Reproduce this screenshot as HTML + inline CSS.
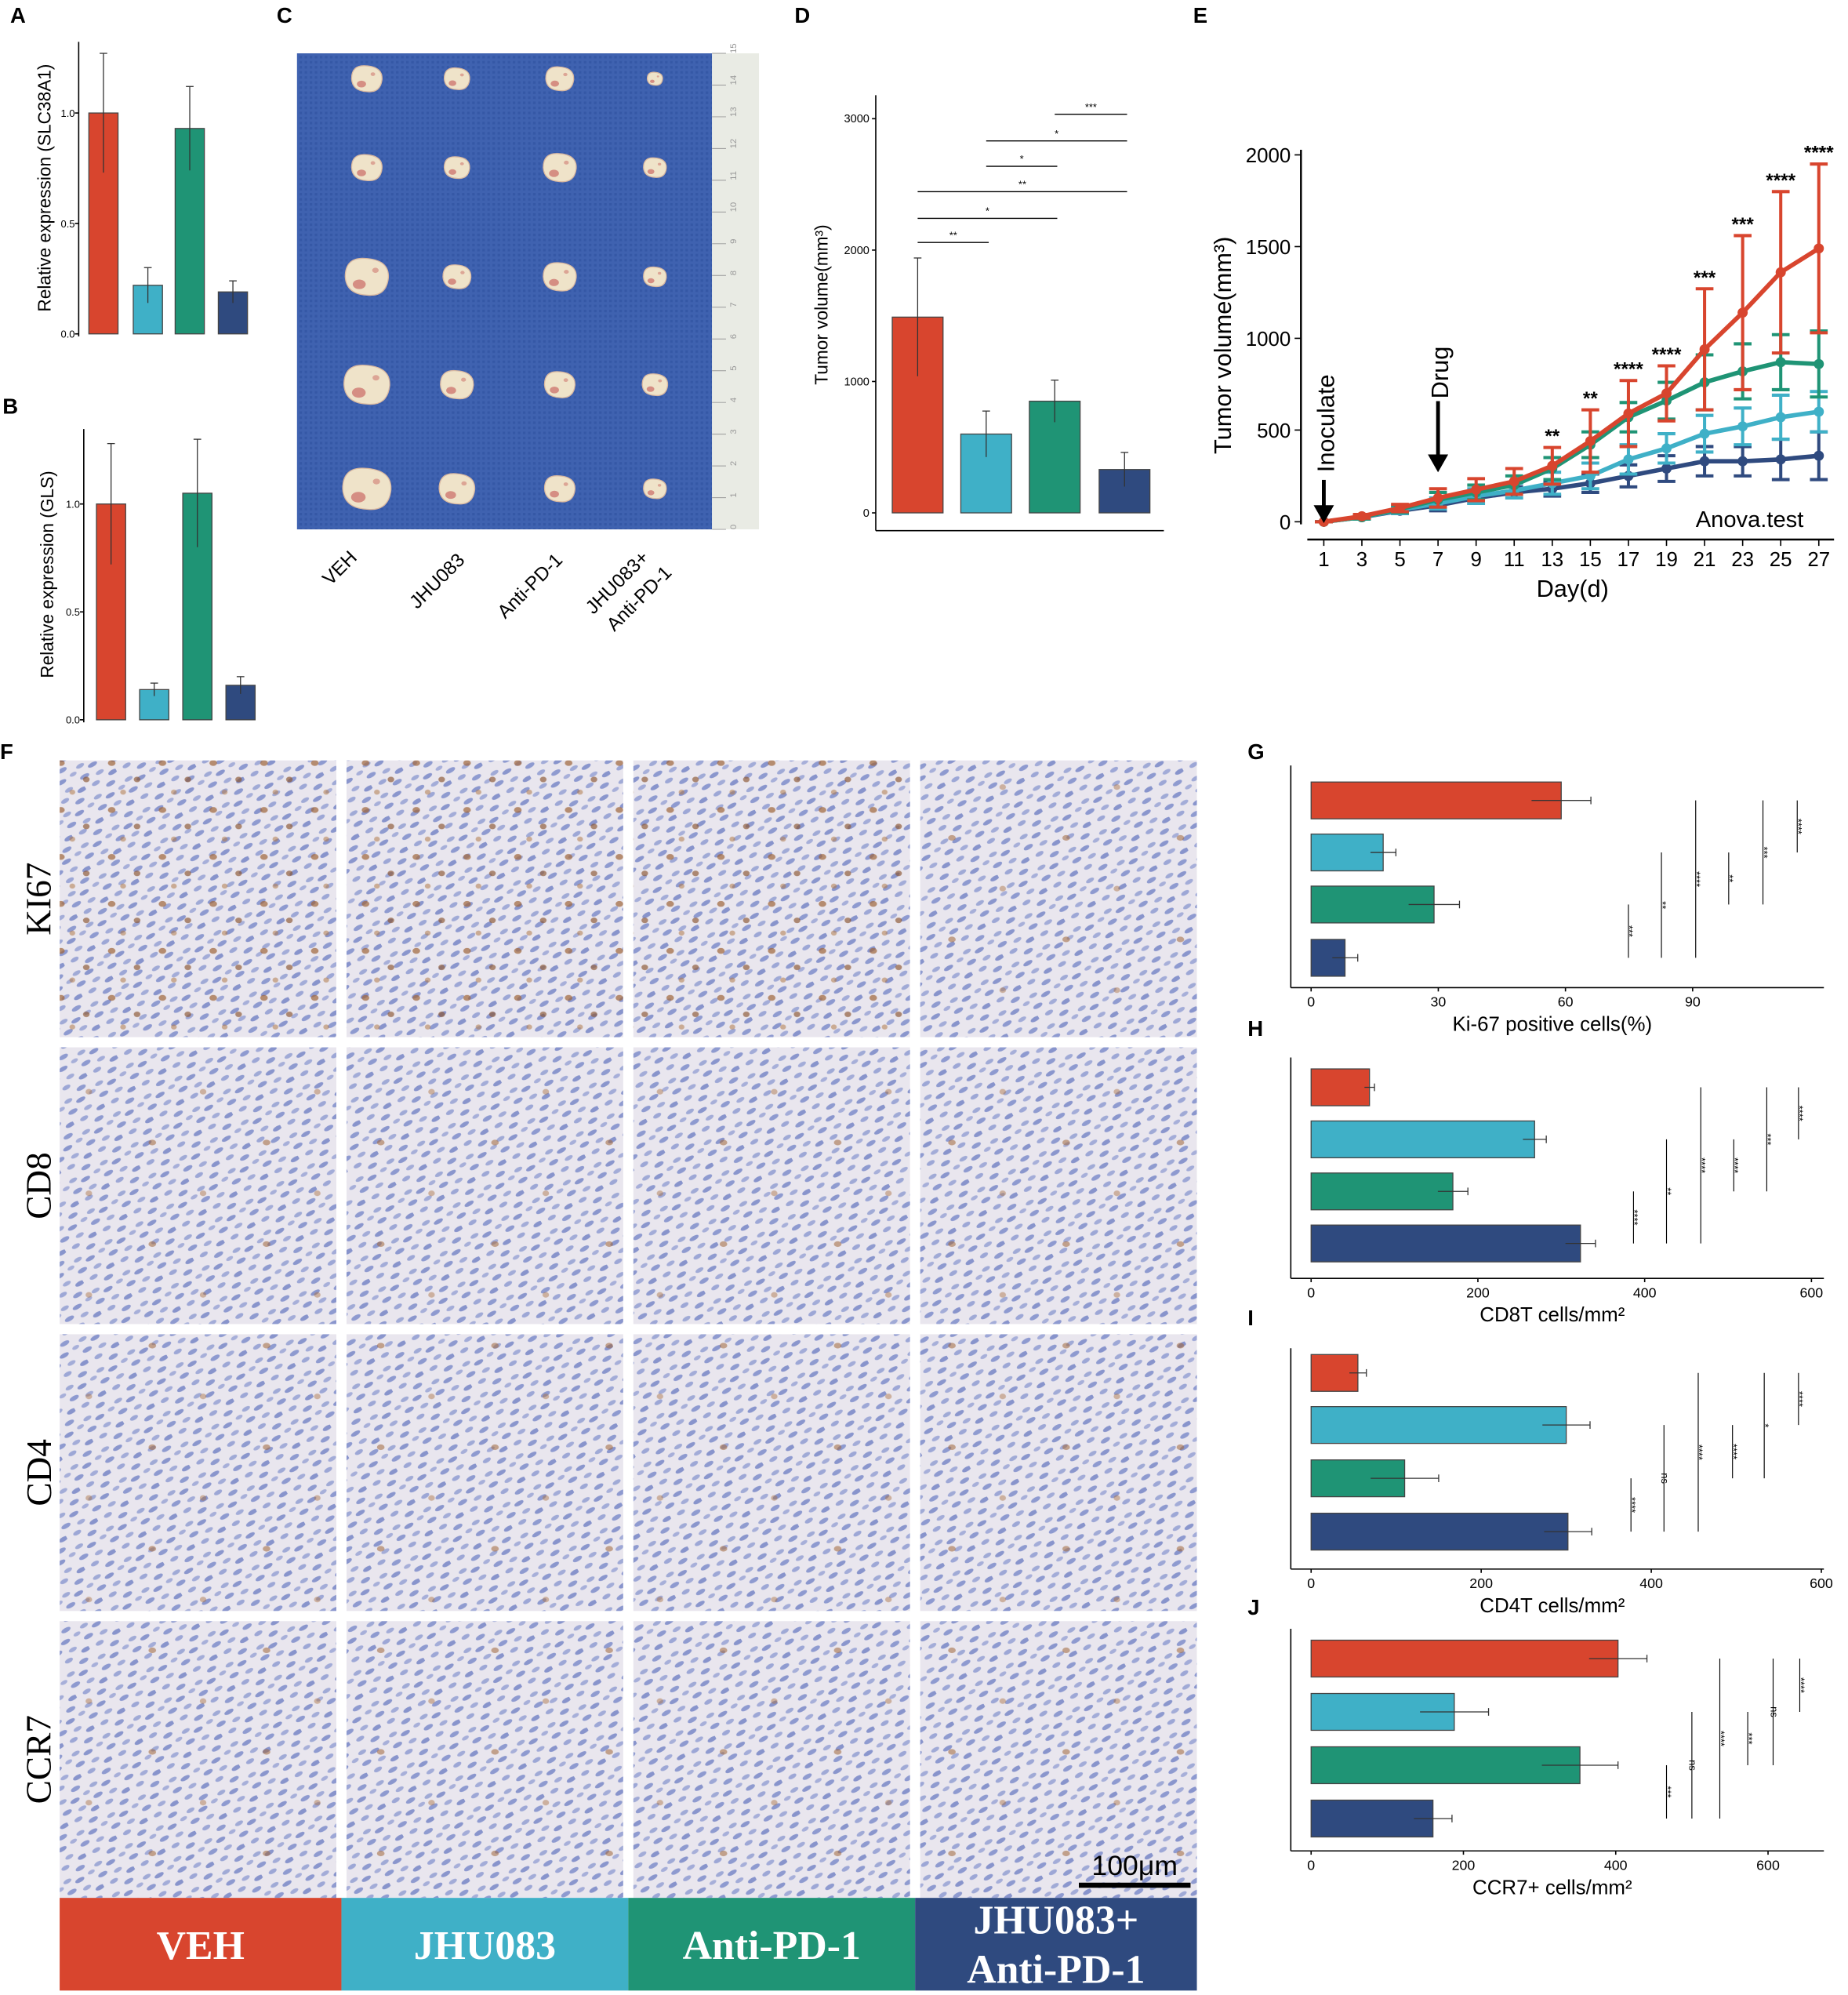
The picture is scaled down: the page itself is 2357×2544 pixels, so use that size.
<!DOCTYPE html>
<html><head><meta charset="utf-8"><style>
html,body{margin:0;padding:0;background:#fff;}
svg{display:block;font-family:"Liberation Sans",sans-serif;}
</style></head><body>
<svg id="fig" width="2357" height="2544" viewBox="0 0 1456 1571.5" xmlns="http://www.w3.org/2000/svg">
<defs>
<pattern id="tissue" width="28" height="28" patternUnits="userSpaceOnUse" patternTransform="rotate(-30)">
<rect width="28" height="28" fill="#e9e6ee"/>
<ellipse cx="4" cy="3" rx="4" ry="1.8" fill="#8e9ad0"/>
<ellipse cx="16" cy="6" rx="3.5" ry="1.6" fill="#a3acd8"/>
<ellipse cx="25" cy="11" rx="4" ry="1.8" fill="#8894cc"/>
<ellipse cx="9" cy="12" rx="3.5" ry="1.7" fill="#9da7d6"/>
<ellipse cx="19" cy="18" rx="4" ry="1.8" fill="#8f9bd0"/>
<ellipse cx="5" cy="22" rx="3.5" ry="1.6" fill="#a0aad6"/>
<ellipse cx="14" cy="26" rx="4" ry="1.7" fill="#8a96cd"/>
<ellipse cx="25" cy="25" rx="3" ry="1.5" fill="#a7afd9"/>
</pattern>
<pattern id="brown" width="40" height="37" patternUnits="userSpaceOnUse">
<ellipse cx="8" cy="9" rx="3" ry="2.3" fill="#a0663a" opacity="0.7"/>
<ellipse cx="28" cy="22" rx="2.6" ry="2.2" fill="#8a5530" opacity="0.65"/>
<ellipse cx="17" cy="32" rx="2.3" ry="2" fill="#b07a4a" opacity="0.55"/>
</pattern>
<pattern id="brownlite" width="90" height="80" patternUnits="userSpaceOnUse">
<ellipse cx="30" cy="20" rx="3" ry="2.2" fill="#a0663a" opacity="0.55"/>
<ellipse cx="70" cy="60" rx="2.6" ry="2.2" fill="#a8703e" opacity="0.45"/>
</pattern>
<pattern id="mesh" width="4" height="4" patternUnits="userSpaceOnUse">
<rect width="4" height="4" fill="#3f62b0"/><rect width="2" height="2" fill="#3558a6"/>
</pattern>
</defs>
<g id="root"></g>
</svg>
<script>
// ---------- data ----------
var groups = ["VEH","JHU083","Anti-PD-1","JHU083+Anti-PD-1"];
var colors = ["#d8452e","#3fb0c7","#1f9475","#2f4a7f"];
var aVals = [1.0,0.22,0.93,0.19];
var aErr = [0.27,0.08,0.19,0.05];
var aTicks = [0,0.5,1.0];
var aTickLabels = ["0.0","0.5","1.0"];
var bVals = [1.0,0.14,1.05,0.16];
var bErr = [0.28,0.03,0.25,0.04];
var dVals = [1490,600,850,330];
var dErr = [450,175,160,130];
var dTicks = [0,1000,2000,3000];
var dSig = [[0,1,"**"],[0,2,"*"],[0,3,"**"],[1,2,"*"],[1,3,"*"],[2,3,"***"]];
var days = [1,3,5,7,9,11,13,15,17,19,21,23,25,27];
var eRed = [0,30,75,130,175,220,305,440,590,700,940,1140,1360,1490];
var eGreen = [0,25,70,120,160,200,290,420,570,660,760,820,870,860];
var eCyan = [0,25,65,100,140,170,210,250,340,400,480,520,570,600];
var eNavy = [0,25,60,90,130,160,180,210,250,290,330,330,340,360];
var eRedErr = [0,10,20,50,60,70,100,170,180,150,330,420,440,460];
var eGreenErr = [0,10,20,40,40,50,60,70,80,100,150,150,150,180];
var eCyanErr = [0,10,20,30,40,40,60,70,80,80,100,100,120,110];
var eNavyErr = [0,10,15,30,30,30,40,50,60,70,80,80,110,130];
var eTicks = [0,500,1000,1500,2000];
var eStars = ["","","","","","","**","**","****","****","***","***","****","****"];
var gVals = [59,17,29,8]; var gErr = [7,3,6,3]; var gTicks=[0,30,60,90];
var hVals = [70,268,170,323]; var hErr = [6,14,18,18]; var hTicks=[0,200,400,600];
var iVals = [55,300,110,302]; var iErr = [10,28,40,28]; var iTicks=[0,200,400,600];
var jVals = [403,188,353,160]; var jErr = [38,45,50,25]; var jTicks=[0,200,400,600];
var gSig = ["***","**","****","**","***","****"];
var hSig = ["****","**","****","****","***","****"];
var iSig = ["****","ns","****","****","*","****"];
var jSig = ["***","ns","****","***","ns","****"];

var NS="http://www.w3.org/2000/svg";
var root=document.getElementById('root');
function mk(tag,attrs,parent,txt){var e=document.createElementNS(NS,tag);for(var k in attrs)e.setAttribute(k,attrs[k]);if(txt!==undefined)e.textContent=txt;(parent||root).appendChild(e);return e;}

// ---------- panel letters ----------
var letters=[["A",8,18],["B",2,326],["C",218,18],["D",626,18],["E",940,18],["F",0,598],["G",983,598],["H",983,816],["I",983,1044],["J",983,1272]];
letters.forEach(function(l){
  var t=mk('text',{x:l[1],y:l[2],'font-size':17,'font-weight':'bold'},root,l[0]);
  
  
});

// ---------- vertical small bar chart (A,B) ----------
function vbar(name,x0,yTop,y0,ppu,xs,vals,errs,label,labX){
  var g=mk('g',{});
  
  
  var ax=mk('line',{x1:x0,y1:yTop,x2:x0,y2:y0+2,stroke:'#000','stroke-width':1},g);
  
  
  aTicks.forEach(function(v,i){
    var y=y0-v*ppu;
    mk('line',{x1:x0-3,y1:y,x2:x0,y2:y,stroke:'#000'},g);
    var t=mk('text',{x:x0-3,y:y+3,'font-size':8,'text-anchor':'end'},g,aTickLabels[i]);
    
    
  });
  vals.forEach(function(v,i){
    var y=y0-v*ppu;
    var r=mk('rect',{x:xs[i],y:y,width:23,height:v*ppu,fill:colors[i],stroke:'#444','stroke-width':0.8},g);
    
    
    var cx=xs[i]+11.5,yh=y0-(v+errs[i])*ppu,yl=y0-(v-errs[i])*ppu;
    mk('line',{x1:cx,y1:yh,x2:cx,y2:yl,stroke:'#333','stroke-width':0.8},g);
    mk('line',{x1:cx-3,y1:yh,x2:cx+3,y2:yh,stroke:'#333','stroke-width':0.8},g);
  });
  var cy=(yTop+y0)/2;
  var lt=mk('text',{x:labX,y:cy,'font-size':14,'text-anchor':'middle',transform:'rotate(-90 '+labX+' '+cy+')'},g,label);
  
  
}
vbar('chart-slc38a1',62,33,263,174,[70,105,138,172],aVals,aErr,'Relative expression (SLC38A1)',40);
vbar('chart-gls',66,338,567,170,[76,110,144,178],bVals,bErr,'Relative expression (GLS)',42);

// ---------- panel C photo ----------
(function(){
  var g=mk('g',{});
  
  
  mk('rect',{x:234,y:42,width:327,height:375,fill:'url(#mesh)'},g);
  var rl=mk('rect',{x:561,y:42,width:37,height:375,fill:'#e9ebe4'},g);
  
  
  for(var k=0;k<=15;k++){var y=417-k*25;mk('line',{x1:561,y1:y,x2:572,y2:y,stroke:'#999','stroke-width':0.6},g);mk('text',{x:580,y:y,'font-size':7,fill:'#999',transform:'rotate(-90 580 '+y+')'},g,String(k));}
  var cols=[289,360,441,516], rows=[62,132,218,303,385];
  var sz=[[12,10,11,6],[12,10,13,9],[17,11,13,9],[18,13,12,10],[19,14,12,9]];
  rows.forEach(function(ry,ri){cols.forEach(function(cx,ci){
    var s=sz[ri][ci];
    var e=mk('path',{d:'M'+(cx-s)+','+ry+' Q'+(cx-s)+','+(ry-s*0.9)+' '+(cx-s*0.1)+','+(ry-s*0.85)+' Q'+(cx+s*1.05)+','+(ry-s*0.8)+' '+(cx+s)+','+(ry+s*0.05)+' Q'+(cx+s*0.9)+','+(ry+s*0.95)+' '+cx+','+(ry+s*0.85)+' Q'+(cx-s*0.95)+','+(ry+s*0.8)+' '+(cx-s)+','+ry+'Z',fill:'#efe3c9',stroke:'#d9b8a0','stroke-width':0.8},g);
    
    
    mk('ellipse',{cx:cx-s*0.35,cy:ry+s*0.35,rx:s*0.3,ry:s*0.22,fill:'#c04848',opacity:0.55},g);
    mk('ellipse',{cx:cx+s*0.4,cy:ry-s*0.3,rx:s*0.15,ry:s*0.12,fill:'#c04848',opacity:0.4},g);
  });});
  var labs=[["VEH",282,440],["JHU083",367,442],["Anti-PD-1",444,442]];
  labs.forEach(function(l){var t=mk('text',{x:l[1],y:l[2],'font-size':15,'text-anchor':'end',transform:'rotate(-45 '+l[1]+' '+l[2]+')'},g,l[0]);
    
    });
  var t1=mk('text',{x:512,y:440,'font-size':15,'text-anchor':'end',transform:'rotate(-45 512 440)'},g,'JHU083+');
  
  
  var t2=mk('text',{x:530,y:452,'font-size':15,'text-anchor':'end',transform:'rotate(-45 530 452)'},g,'Anti-PD-1');
  
  
})();

// ---------- panel D ----------
(function(){
  var g=mk('g',{});
  
  
  var x0=690,y0=404,ppu=0.1035;
  function Y(v){return y0-v*ppu;}
  mk('line',{x1:x0,y1:75,x2:x0,y2:418,stroke:'#000'},g);
  mk('line',{x1:x0,y1:418,x2:917,y2:418,stroke:'#000'},g);
  dTicks.forEach(function(v){mk('line',{x1:x0-3,y1:Y(v),x2:x0,y2:Y(v),stroke:'#000'},g);
    var t=mk('text',{x:x0-5,y:Y(v)+3,'font-size':9,'text-anchor':'end'},g,String(v));
    
    });
  var xs=[703,757,811,866];
  dVals.forEach(function(v,i){
    var r=mk('rect',{x:xs[i],y:Y(v),width:40,height:v*ppu,fill:colors[i],stroke:'#444','stroke-width':0.8},g);
    
    
    var cx=xs[i]+20;
    mk('line',{x1:cx,y1:Y(v+dErr[i]),x2:cx,y2:Y(v-dErr[i]),stroke:'#333','stroke-width':0.8},g);
    mk('line',{x1:cx-3,y1:Y(v+dErr[i]),x2:cx+3,y2:Y(v+dErr[i]),stroke:'#333','stroke-width':0.8},g);
  });
  var ys=[191,172,151,131,111,90];
  dSig.forEach(function(s,k){
    var xa=xs[s[0]]+20,xb=xs[s[1]]+22;
    var l=mk('line',{x1:xa,y1:ys[k],x2:xb,y2:ys[k],stroke:'#000','stroke-width':0.8},g);
    
    
    mk('text',{x:(xa+xb)/2,y:ys[k]-3,'font-size':8,'text-anchor':'middle'},g,s[2]);
  });
  var lt=mk('text',{x:652,y:240,'font-size':14,'text-anchor':'middle',transform:'rotate(-90 652 240)'},g,'Tumor volume(mm³)');
  
  
})();

// ---------- panel E ----------
(function(){
  var g=mk('g',{});
  
  
  var y0=411,ppu=0.1445;
  function Y(v){return y0-v*ppu;}
  function X(d){return 1043+(d-1)*15;}
  mk('line',{x1:1025,y1:118,x2:1025,y2:413,stroke:'#000','stroke-width':1.5},g);
  mk('line',{x1:1030,y1:425,x2:1445,y2:425,stroke:'#000','stroke-width':1.5},g);
  eTicks.forEach(function(v){mk('line',{x1:1020,y1:Y(v),x2:1025,y2:Y(v),stroke:'#000'},g);
    var t=mk('text',{x:1017,y:Y(v)+6,'font-size':16,'text-anchor':'end'},g,String(v));
    
    });
  days.forEach(function(d){mk('line',{x1:X(d),y1:425,x2:X(d),y2:430,stroke:'#000'},g);
    var t=mk('text',{x:X(d),y:446,'font-size':16,'text-anchor':'middle'},g,String(d));
    
    });
  var series=[[eNavy,eNavyErr,colors[3],'navy'],[eCyan,eCyanErr,colors[1],'cyan'],[eGreen,eGreenErr,colors[2],'green'],[eRed,eRedErr,colors[0],'red']];
  series.forEach(function(s){
    var pts=days.map(function(d,i){return X(d)+','+Y(s[0][i]);}).join(' ');
    s[0].forEach(function(v,i){var x=X(days[i]);
      mk('line',{x1:x,y1:Y(v+s[1][i]),x2:x,y2:Y(v-s[1][i]),stroke:s[2],'stroke-width':2.5},g);
      mk('line',{x1:x-7,y1:Y(v+s[1][i]),x2:x+7,y2:Y(v+s[1][i]),stroke:s[2],'stroke-width':2.5},g);
      mk('line',{x1:x-7,y1:Y(v-s[1][i]),x2:x+7,y2:Y(v-s[1][i]),stroke:s[2],'stroke-width':2.5},g);
    });
    var pl=mk('polyline',{points:pts,fill:'none',stroke:s[2],'stroke-width':3.5},g);
    
    
    s[0].forEach(function(v,i){mk('circle',{cx:X(days[i]),cy:Y(v),r:4,fill:s[2]},g);});
  });
  eStars.forEach(function(st,i){if(!st)return;
    var t=mk('text',{x:X(days[i]),y:Y(eRed[i]+eRedErr[i])-4,'font-size':15,'font-weight':'bold','text-anchor':'middle'},g,st);
    
    });
  mk('line',{x1:1043,y1:378,x2:1043,y2:400,stroke:'#000','stroke-width':3},g);
  mk('polygon',{points:'1035,398 1051,398 1043,412',fill:'#000'},g);
  mk('line',{x1:1133,y1:316,x2:1133,y2:360,stroke:'#000','stroke-width':3},g);
  mk('polygon',{points:'1125,358 1141,358 1133,372',fill:'#000'},g);
  var a1=mk('text',{x:1051,y:372,'font-size':19,transform:'rotate(-90 1051 372)'},g,'Inoculate');
  
  
  var a2=mk('text',{x:1141,y:314,'font-size':19,transform:'rotate(-90 1141 314)'},g,'Drug');
  
  
  var at=mk('text',{x:1421,y:415,'font-size':18,'text-anchor':'end'},g,'Anova.test');
  
  
  var xt=mk('text',{x:1239,y:470,'font-size':19,'text-anchor':'middle'},g,'Day(d)');
  
  
  var yt=mk('text',{x:970,y:272,'font-size':19,'text-anchor':'middle',transform:'rotate(-90 970 272)'},g,'Tumor volume(mm³)');
  
  
})();

// ---------- panel F histology ----------
(function(){
  var g=mk('g',{});
  
  
  var cx=[47,273,499,725], ry=[599,825,1051,1277], rl=["KI67","CD8","CD4","CCR7"];
  var overlay=[["url(#brown)","url(#brown)","url(#brown)","url(#brownlite)"],["url(#brownlite)","url(#brownlite)","url(#brownlite)","url(#brownlite)"],["url(#brownlite)","url(#brownlite)","url(#brownlite)","url(#brownlite)"],["url(#brownlite)","url(#brownlite)","url(#brownlite)","url(#brownlite)"]];
  ry.forEach(function(y,r){cx.forEach(function(x,c){
    var im=mk('rect',{x:x,y:y,width:218,height:218,fill:'url(#tissue)'},g);
    
    
    mk('rect',{x:x,y:y,width:218,height:218,fill:overlay[r][c]},g);
  });
    var yc=y+109;
    var t=mk('text',{x:40,y:yc,'font-size':28,'font-family':'Liberation Serif,serif','text-anchor':'middle',transform:'rotate(-90 40 '+yc+')'},g,rl[r]);
    
    
  });
  var sb=mk('line',{x1:850,y1:1485,x2:938,y2:1485,stroke:'#000','stroke-width':4},g);
  
  
  mk('text',{x:894,y:1477,'font-size':22,'text-anchor':'middle'},g,'100μm');
  var bx=[47,269,495,721],bw=[222,226,226,222];
  var bl=["VEH","JHU083","Anti-PD-1"];
  bx.forEach(function(x,i){
    var r=mk('rect',{x:x,y:1495,width:bw[i],height:73,fill:colors[i]},g);
    
    
    if(i<3){mk('text',{x:x+bw[i]/2,y:1543,'font-size':32,'font-weight':'bold','font-family':'Liberation Serif,serif',fill:'#fff','text-anchor':'middle'},g,bl[i]);}
    else{mk('text',{x:x+bw[i]/2,y:1523,'font-size':32,'font-weight':'bold','font-family':'Liberation Serif,serif',fill:'#fff','text-anchor':'middle'},g,'JHU083+');
      mk('text',{x:x+bw[i]/2,y:1562,'font-size':32,'font-weight':'bold','font-family':'Liberation Serif,serif',fill:'#fff','text-anchor':'middle'},g,'Anti-PD-1');}
  });
})();

// ---------- panels G-J horizontal bars ----------
function hbar(name,yTop,yBot,barYs,vals,errs,ticks,ppu,sig,sigX,label){
  var g=mk('g',{});
  
  
  var x0=1033;
  function X(v){return x0+v*ppu;}
  mk('line',{x1:1017,y1:yTop,x2:1017,y2:yBot,stroke:'#000'},g);
  mk('line',{x1:1017,y1:yBot,x2:1437,y2:yBot,stroke:'#000'},g);
  ticks.forEach(function(v){mk('line',{x1:X(v),y1:yBot,x2:X(v),y2:yBot+3,stroke:'#000'},g);
    var t=mk('text',{x:X(v),y:yBot+15,'font-size':11,'text-anchor':'middle'},g,String(v));
    
    });
  vals.forEach(function(v,i){
    var r=mk('rect',{x:x0,y:barYs[i],width:v*ppu,height:29,fill:colors[i],stroke:'#444','stroke-width':0.8},g);
    
    
    var cy=barYs[i]+14.5;
    mk('line',{x1:X(v-errs[i]),y1:cy,x2:X(v+errs[i]),y2:cy,stroke:'#333','stroke-width':0.8},g);
    mk('line',{x1:X(v+errs[i]),y1:cy-3,x2:X(v+errs[i]),y2:cy+3,stroke:'#333','stroke-width':0.8},g);
  });
  var pairs=[[2,3],[1,3],[0,3],[1,2],[0,2],[0,1]];
  pairs.forEach(function(p,k){
    var ya=barYs[p[0]]+14.5, yb=barYs[p[1]]+14.5;
    var l=mk('line',{x1:sigX[k],y1:ya,x2:sigX[k],y2:yb,stroke:'#000','stroke-width':0.7},g);
    
    
    var my=(ya+yb)/2, tx=sigX[k]-2;
    mk('text',{x:tx,y:my,'font-size':8,'text-anchor':'middle',transform:'rotate(90 '+tx+' '+my+')'},g,sig[k]);
  });
  var lt=mk('text',{x:1223,y:yBot+34,'font-size':16,'text-anchor':'middle'},g,label);
  
  
}
hbar('chart-ki67',603,778,[616,657,698,740],gVals,gErr,gTicks,3.34,gSig,[1283,1309,1336,1362,1389,1416],'Ki-67 positive cells(%)');
hbar('chart-cd8',833,1007,[842,883,924,965],hVals,hErr,hTicks,0.657,hSig,[1287,1313,1340,1366,1392,1417],'CD8T cells/mm²');
hbar('chart-cd4',1062,1236,[1067,1108,1150,1192],iVals,iErr,iTicks,0.67,iSig,[1285,1311,1338,1365,1390,1417],'CD4T cells/mm²');
hbar('chart-ccr7',1283,1458,[1292,1334,1376,1418],jVals,jErr,jTicks,0.6,jSig,[1313,1333,1355,1377,1397,1418],'CCR7+ cells/mm²');
</script>
</body></html>
